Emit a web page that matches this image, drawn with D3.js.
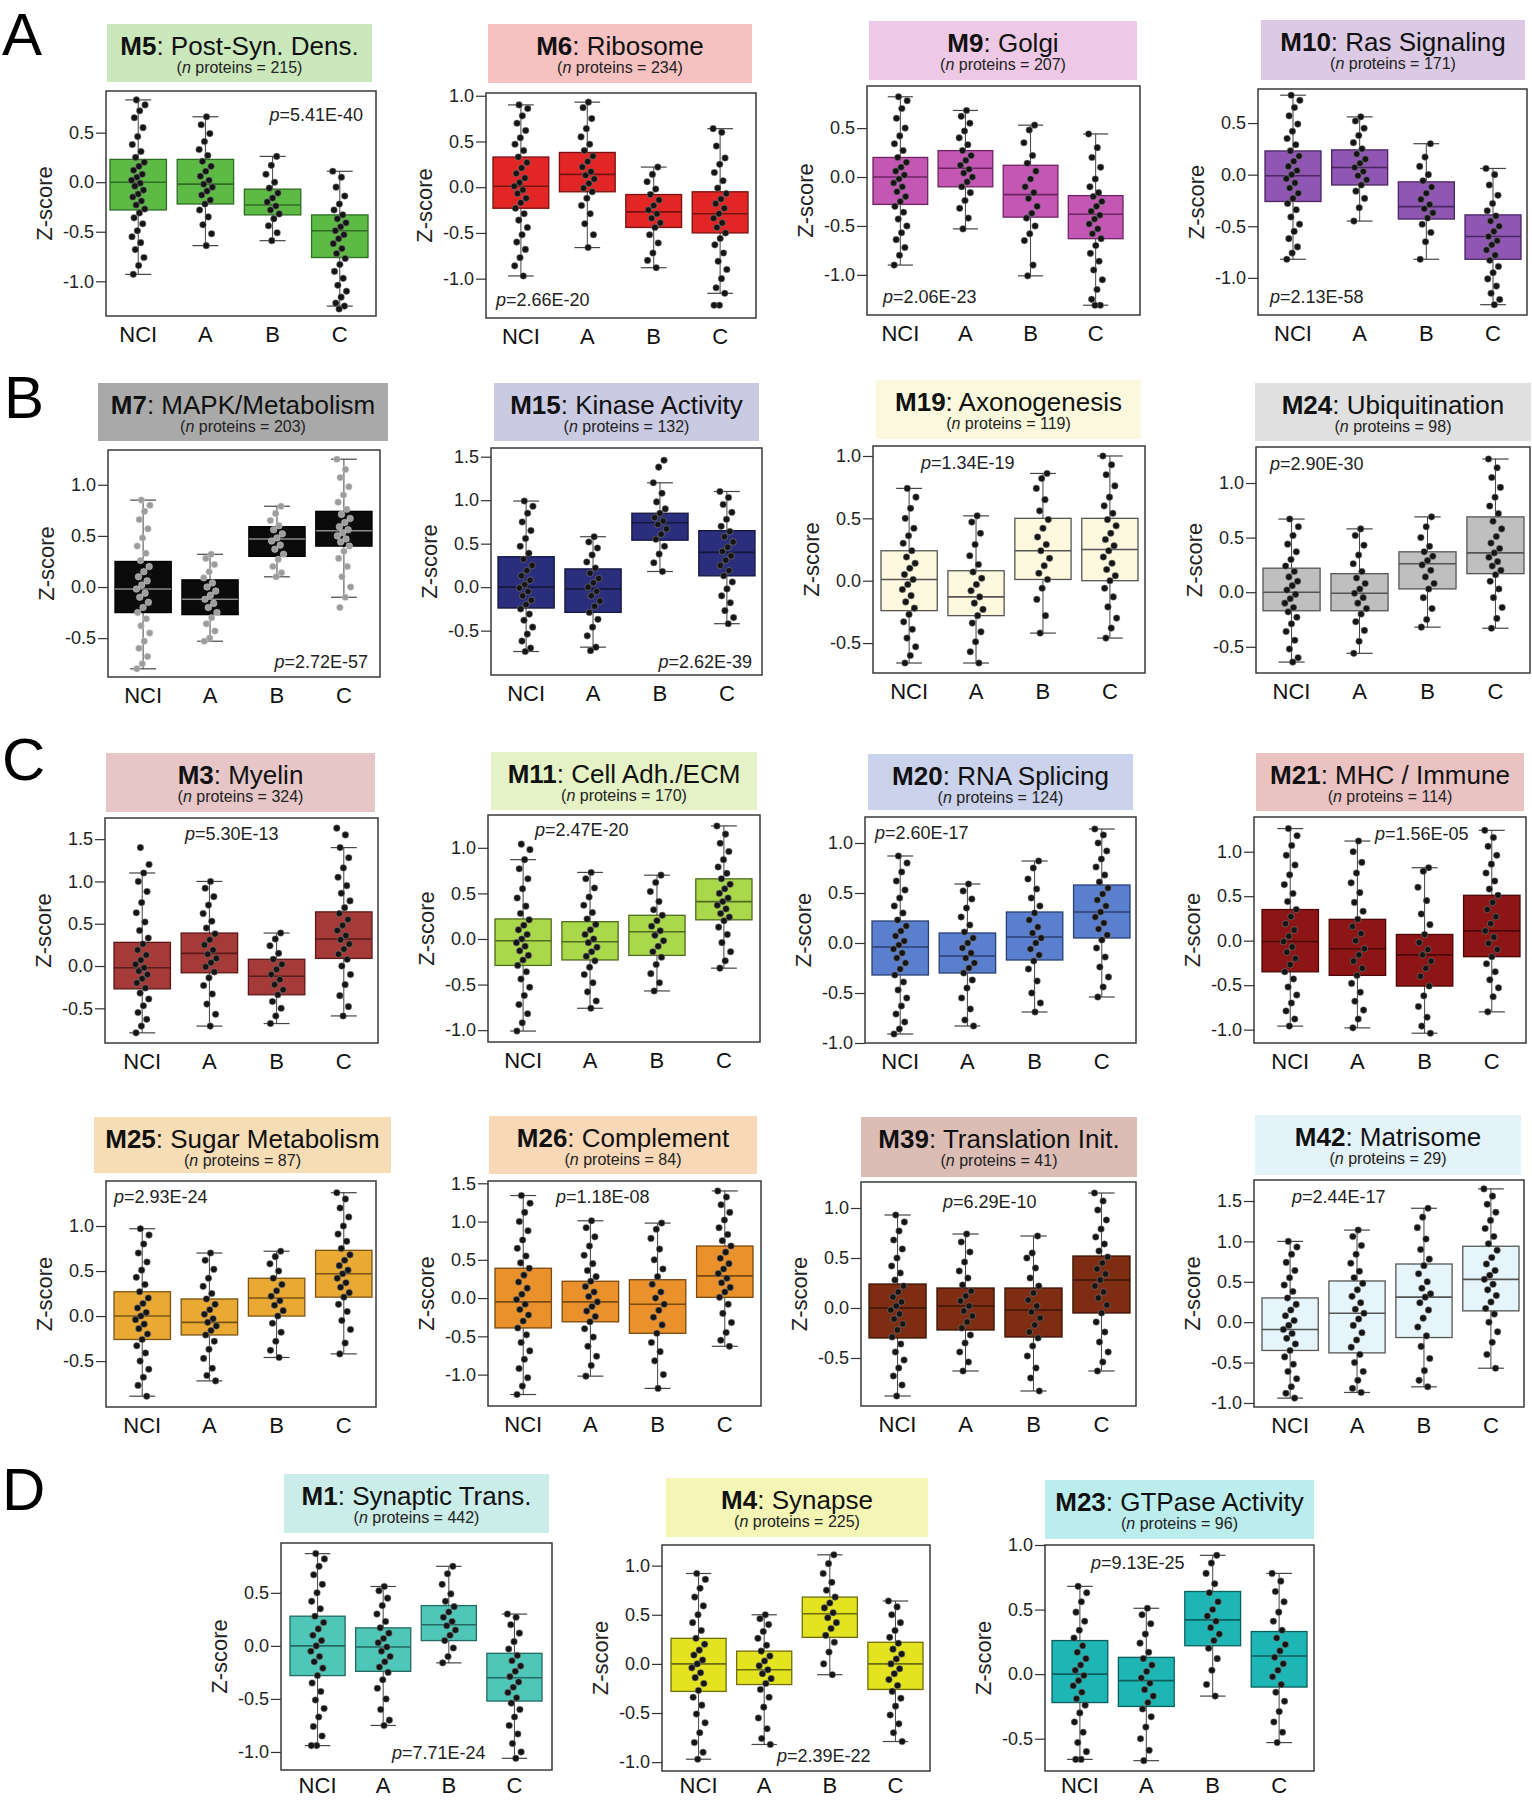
<!DOCTYPE html>
<html>
<head>
<meta charset="utf-8">
<script src="https://cdn.jsdelivr.net/npm/d3@7"></script>
<style>
  body { margin: 0; background: #fff; }
  svg { display: block; font-family: "Liberation Sans", Arial, sans-serif; }
</style>
</head>
<body>
<svg id="chart" width="1532" height="1800"></svg>
<script>
  'use strict';

  var groups = ['NCI', 'A', 'B', 'C'];
  var panelLetters = ['A', 'B', 'C', 'D'];

  var modules = ['M5', 'M6', 'M9', 'M10', 'M7', 'M15', 'M19', 'M24', 'M3', 'M11', 'M20', 'M21',
    'M25', 'M26', 'M39', 'M42', 'M1', 'M4', 'M23'];
  var moduleNames = ['Post-Syn. Dens.', 'Ribosome', 'Golgi', 'Ras Signaling', 'MAPK/Metabolism',
    'Kinase Activity', 'Axonogenesis', 'Ubiquitination', 'Myelin', 'Cell Adh./ECM', 'RNA Splicing',
    'MHC / Immune', 'Sugar Metabolism', 'Complement', 'Translation Init.', 'Matrisome',
    'Synaptic Trans.', 'Synapse', 'GTPase Activity'];
  var proteinCounts = [215, 234, 207, 171, 203, 132, 119, 98, 324, 170, 124, 114, 87, 84, 41, 29, 442, 225, 96];
  var pValues = ['5.41E-40', '2.66E-20', '2.06E-23', '2.13E-58', '2.72E-57', '2.62E-39', '1.34E-19',
    '2.90E-30', '5.30E-13', '2.47E-20', '2.60E-17', '1.56E-05', '2.93E-24', '1.18E-08', '6.29E-10',
    '2.44E-17', '7.71E-24', '2.39E-22', '9.13E-25'];

  var yTicks = [
    [-1, -0.5, 0, 0.5], [-1, -0.5, 0, 0.5, 1], [-1, -0.5, 0, 0.5], [-1, -0.5, 0, 0.5],
    [-0.5, 0, 0.5, 1], [-0.5, 0, 0.5, 1, 1.5], [-0.5, 0, 0.5, 1], [-0.5, 0, 0.5, 1],
    [-0.5, 0, 0.5, 1, 1.5], [-1, -0.5, 0, 0.5, 1], [-1, -0.5, 0, 0.5, 1], [-1, -0.5, 0, 0.5, 1],
    [-0.5, 0, 0.5, 1], [-1, -0.5, 0, 0.5, 1, 1.5], [-0.5, 0, 0.5, 1], [-1, -0.5, 0, 0.5, 1, 1.5],
    [-1, -0.5, 0, 0.5], [-1, -0.5, 0, 0.5, 1], [-0.5, 0, 0.5, 1]
  ];

  // [lower whisker, q1, median, q3, upper whisker] for NCI, A, B, C
  var boxStats = [
    [[-0.93, -0.28, 0.0, 0.23, 0.83], [-0.64, -0.22, -0.02, 0.23, 0.66], [-0.59, -0.33, -0.23, -0.07, 0.26], [-1.25, -0.76, -0.49, -0.33, 0.11]],
    [[-0.97, -0.23, 0.01, 0.33, 0.90], [-0.66, -0.05, 0.14, 0.38, 0.93], [-0.88, -0.44, -0.27, -0.08, 0.22], [-1.16, -0.50, -0.29, -0.05, 0.64]],
    [[-0.90, -0.28, 0.0, 0.20, 0.82], [-0.53, -0.10, 0.09, 0.27, 0.68], [-1.01, -0.41, -0.18, 0.12, 0.53], [-1.31, -0.63, -0.38, -0.19, 0.44]],
    [[-0.82, -0.26, -0.01, 0.23, 0.77], [-0.45, -0.10, 0.07, 0.24, 0.56], [-0.82, -0.43, -0.31, -0.07, 0.30], [-1.26, -0.82, -0.60, -0.39, 0.06]],
    [[-0.80, -0.25, -0.02, 0.25, 0.85], [-0.53, -0.27, -0.12, 0.07, 0.32], [0.10, 0.30, 0.47, 0.59, 0.79], [-0.10, 0.40, 0.55, 0.74, 1.25]],
    [[-0.74, -0.24, 0.0, 0.35, 0.99], [-0.69, -0.29, -0.02, 0.21, 0.58], [0.18, 0.54, 0.74, 0.85, 1.20], [-0.42, 0.13, 0.40, 0.65, 1.10]],
    [[-0.66, -0.24, 0.01, 0.24, 0.74], [-0.66, -0.28, -0.13, 0.08, 0.52], [-0.42, 0.01, 0.24, 0.50, 0.86], [-0.46, 0.0, 0.25, 0.50, 1.0]],
    [[-0.64, -0.17, 0.0, 0.22, 0.67], [-0.56, -0.17, -0.01, 0.17, 0.58], [-0.32, 0.03, 0.26, 0.37, 0.69], [-0.33, 0.17, 0.36, 0.69, 1.22]],
    [[-0.79, -0.27, -0.02, 0.28, 1.10], [-0.71, -0.08, 0.15, 0.39, 1.00], [-0.68, -0.34, -0.12, 0.08, 0.39], [-0.59, 0.09, 0.32, 0.64, 1.40]],
    [[-1.01, -0.29, -0.02, 0.22, 0.87], [-0.76, -0.23, -0.03, 0.19, 0.73], [-0.57, -0.18, 0.08, 0.26, 0.70], [-0.32, 0.21, 0.41, 0.66, 1.24]],
    [[-0.91, -0.32, -0.04, 0.22, 0.87], [-0.83, -0.30, -0.13, 0.10, 0.59], [-0.69, -0.17, 0.06, 0.31, 0.82], [-0.54, 0.05, 0.31, 0.58, 1.14]],
    [[-0.96, -0.35, -0.01, 0.35, 1.26], [-0.98, -0.39, -0.09, 0.24, 1.12], [-1.04, -0.51, -0.16, 0.07, 0.82], [-0.80, -0.18, 0.11, 0.51, 1.24]],
    [[-0.89, -0.26, 0.0, 0.27, 0.97], [-0.72, -0.21, -0.07, 0.19, 0.70], [-0.46, 0.0, 0.20, 0.42, 0.72], [-0.42, 0.21, 0.47, 0.73, 1.37]],
    [[-1.26, -0.39, -0.05, 0.39, 1.34], [-1.02, -0.31, -0.05, 0.22, 1.01], [-1.18, -0.46, -0.08, 0.24, 0.98], [-0.63, 0.01, 0.29, 0.68, 1.40]],
    [[-0.88, -0.30, 0.0, 0.24, 0.93], [-0.63, -0.22, 0.02, 0.20, 0.74], [-0.83, -0.29, -0.02, 0.20, 0.72], [-0.63, -0.05, 0.28, 0.52, 1.15]],
    [[-0.94, -0.35, -0.09, 0.30, 1.0], [-0.87, -0.38, 0.11, 0.51, 1.14], [-0.80, -0.19, 0.31, 0.72, 1.41], [-0.57, 0.14, 0.53, 0.94, 1.65]],
    [[-0.94, -0.28, 0.0, 0.28, 0.87], [-0.75, -0.24, -0.01, 0.17, 0.56], [-0.16, 0.05, 0.20, 0.38, 0.75], [-1.06, -0.52, -0.30, -0.07, 0.30]],
    [[-0.97, -0.28, 0.0, 0.26, 0.92], [-0.82, -0.21, -0.06, 0.13, 0.50], [-0.11, 0.27, 0.51, 0.68, 1.11], [-0.79, -0.26, 0.0, 0.22, 0.64]],
    [[-0.66, -0.22, 0.0, 0.26, 0.68], [-0.67, -0.25, -0.05, 0.13, 0.51], [-0.17, 0.22, 0.42, 0.64, 0.92], [-0.53, -0.10, 0.14, 0.33, 0.78]]
  ];

  // individual z-scores shown as dots, NCI, A, B, C per module
  var points = [
    [[0.83,0.78,0.72,0.65,0.55,0.46,0.38,0.31,0.25,0.20,0.16,0.12,0.08,0.05,0.02,-0.01,-0.04,-0.08,-0.12,-0.15,-0.19,-0.23,-0.27,-0.31,-0.36,-0.42,-0.49,-0.55,-0.61,-0.68,-0.76,-0.84,-0.93],
     [0.66,0.58,0.49,0.41,0.33,0.27,0.21,0.16,0.11,0.06,0.02,-0.02,-0.05,-0.09,-0.13,-0.18,-0.22,-0.28,-0.35,-0.43,-0.52,-0.64],
     [0.26,0.17,0.08,0.0,-0.06,-0.11,-0.16,-0.2,-0.24,-0.28,-0.32,-0.37,-0.44,-0.51,-0.59],
     [0.11,0.05,-0.05,-0.14,-0.22,-0.28,-0.33,-0.37,-0.41,-0.45,-0.49,-0.53,-0.57,-0.62,-0.67,-0.72,-0.77,-0.83,-0.9,-0.97,-1.04,-1.1,-1.16,-1.22,-1.25,-1.28]],
    [[0.9,0.86,0.78,0.7,0.62,0.54,0.47,0.4,0.33,0.27,0.21,0.15,0.1,0.05,0.01,-0.03,-0.07,-0.12,-0.17,-0.23,-0.29,-0.36,-0.44,-0.52,-0.6,-0.68,-0.77,-0.86,-0.97],
     [0.93,0.87,0.75,0.64,0.55,0.47,0.4,0.34,0.28,0.22,0.17,0.13,0.09,0.04,-0.01,-0.05,-0.12,-0.2,-0.29,-0.4,-0.52,-0.66],
     [0.22,0.14,0.06,-0.02,-0.08,-0.14,-0.2,-0.25,-0.29,-0.34,-0.39,-0.44,-0.52,-0.61,-0.72,-0.8,-0.88],
     [0.64,0.6,0.45,0.32,0.25,0.16,0.07,-0.01,-0.07,-0.13,-0.18,-0.23,-0.29,-0.34,-0.39,-0.44,-0.5,-0.56,-0.63,-0.72,-0.81,-0.9,-1.0,-1.1,-1.16,-1.29,-1.29]],
    [[0.82,0.78,0.7,0.6,0.5,0.42,0.34,0.27,0.2,0.15,0.1,0.06,0.02,-0.02,-0.06,-0.1,-0.15,-0.2,-0.25,-0.3,-0.36,-0.43,-0.5,-0.57,-0.64,-0.72,-0.8,-0.9],
     [0.68,0.62,0.55,0.47,0.4,0.33,0.27,0.22,0.17,0.12,0.08,0.04,0.0,-0.05,-0.1,-0.16,-0.24,-0.32,-0.42,-0.53],
     [0.53,0.48,0.35,0.22,0.14,0.06,-0.02,-0.1,-0.16,-0.22,-0.3,-0.37,-0.42,-0.5,-0.58,-0.65,-0.9,-1.01],
     [0.44,0.3,0.2,0.1,-0.02,-0.1,-0.16,-0.2,-0.25,-0.3,-0.35,-0.39,-0.43,-0.48,-0.53,-0.58,-0.63,-0.7,-0.78,-0.86,-0.95,-1.05,-1.15,-1.25,-1.31,-1.31]],
    [[0.77,0.72,0.65,0.57,0.49,0.42,0.35,0.29,0.23,0.18,0.13,0.08,0.04,0.0,-0.04,-0.08,-0.13,-0.18,-0.23,-0.28,-0.34,-0.41,-0.48,-0.55,-0.62,-0.7,-0.76,-0.82],
     [0.56,0.52,0.45,0.38,0.31,0.25,0.2,0.15,0.11,0.07,0.03,-0.01,-0.05,-0.1,-0.16,-0.23,-0.32,-0.45],
     [0.3,0.17,0.08,0.0,-0.06,-0.12,-0.18,-0.24,-0.29,-0.33,-0.37,-0.42,-0.48,-0.56,-0.65,-0.82],
     [0.06,0.0,-0.1,-0.2,-0.28,-0.35,-0.4,-0.45,-0.5,-0.55,-0.6,-0.64,-0.68,-0.73,-0.78,-0.83,-0.89,-0.95,-1.01,-1.08,-1.15,-1.21,-1.26]],
    [[0.85,0.8,0.74,0.66,0.57,0.48,0.4,0.33,0.26,0.2,0.15,0.1,0.06,0.02,-0.02,-0.06,-0.1,-0.15,-0.2,-0.25,-0.31,-0.38,-0.45,-0.53,-0.6,-0.68,-0.75,-0.8],
     [0.32,0.28,0.22,0.15,0.09,0.04,0.0,-0.04,-0.08,-0.12,-0.16,-0.2,-0.25,-0.3,-0.36,-0.43,-0.5,-0.53],
     [0.79,0.72,0.65,0.6,0.56,0.52,0.48,0.45,0.41,0.37,0.32,0.27,0.2,0.14,0.1],
     [1.25,1.15,1.07,0.98,0.9,0.83,0.76,0.71,0.67,0.63,0.59,0.56,0.53,0.5,0.47,0.44,0.4,0.35,0.28,0.2,0.1,0.0,-0.1,-0.2]],
    [[0.99,0.93,0.85,0.75,0.65,0.56,0.47,0.39,0.32,0.25,0.19,0.13,0.08,0.03,-0.01,-0.05,-0.1,-0.15,-0.2,-0.25,-0.31,-0.38,-0.46,-0.54,-0.62,-0.7,-0.74],
     [0.58,0.52,0.45,0.37,0.29,0.22,0.16,0.1,0.05,0.0,-0.05,-0.1,-0.16,-0.22,-0.29,-0.37,-0.46,-0.56,-0.69,-0.73],
     [1.46,1.38,1.2,1.08,0.98,0.9,0.85,0.8,0.76,0.72,0.67,0.61,0.55,0.47,0.38,0.28,0.18],
     [1.1,1.03,0.95,0.86,0.78,0.7,0.64,0.58,0.52,0.46,0.41,0.36,0.31,0.25,0.19,0.13,0.06,-0.02,-0.1,-0.18,-0.27,-0.35,-0.42]],
    [[0.74,0.67,0.58,0.5,0.42,0.36,0.3,0.24,0.19,0.14,0.1,0.05,0.01,-0.03,-0.07,-0.12,-0.17,-0.22,-0.27,-0.33,-0.39,-0.46,-0.53,-0.6,-0.66],
     [0.52,0.47,0.38,0.29,0.2,0.13,0.07,0.02,-0.03,-0.08,-0.13,-0.18,-0.23,-0.28,-0.34,-0.41,-0.49,-0.57,-0.66],
     [0.86,0.82,0.74,0.65,0.56,0.49,0.42,0.35,0.29,0.24,0.18,0.12,0.06,0.01,-0.06,-0.15,-0.28,-0.42],
     [1.0,0.93,0.85,0.76,0.67,0.6,0.54,0.49,0.44,0.38,0.33,0.28,0.24,0.19,0.14,0.09,0.04,0.0,-0.06,-0.13,-0.21,-0.3,-0.38,-0.46]],
    [[0.67,0.6,0.52,0.44,0.37,0.3,0.24,0.19,0.14,0.1,0.06,0.02,-0.02,-0.06,-0.1,-0.14,-0.18,-0.23,-0.29,-0.36,-0.44,-0.52,-0.6,-0.64],
     [0.58,0.52,0.43,0.34,0.26,0.19,0.13,0.08,0.03,-0.01,-0.05,-0.1,-0.15,-0.2,-0.27,-0.35,-0.45,-0.56],
     [0.69,0.6,0.5,0.42,0.37,0.33,0.29,0.25,0.2,0.14,0.08,0.03,-0.05,-0.15,-0.25,-0.32],
     [1.22,1.14,1.05,0.96,0.87,0.79,0.72,0.65,0.58,0.51,0.45,0.4,0.36,0.32,0.28,0.24,0.2,0.16,0.1,0.03,-0.05,-0.14,-0.24,-0.33]],
    [[1.4,1.2,1.1,1.0,0.88,0.75,0.63,0.52,0.42,0.33,0.26,0.19,0.13,0.07,0.02,-0.02,-0.06,-0.1,-0.15,-0.2,-0.26,-0.32,-0.39,-0.47,-0.55,-0.63,-0.71,-0.79],
     [1.0,0.92,0.82,0.72,0.62,0.53,0.45,0.38,0.31,0.25,0.19,0.14,0.09,0.04,-0.01,-0.07,-0.14,-0.23,-0.33,-0.45,-0.57,-0.71],
     [0.39,0.32,0.24,0.15,0.08,0.02,-0.04,-0.1,-0.16,-0.22,-0.28,-0.34,-0.42,-0.5,-0.59,-0.68],
     [1.63,1.55,1.4,1.28,1.16,1.05,0.95,0.86,0.77,0.69,0.62,0.55,0.48,0.42,0.36,0.31,0.26,0.2,0.14,0.08,0.0,-0.1,-0.22,-0.35,-0.48,-0.59]],
    [[1.04,0.98,0.87,0.77,0.66,0.55,0.45,0.36,0.28,0.21,0.15,0.1,0.05,0.0,-0.04,-0.08,-0.13,-0.18,-0.23,-0.29,-0.36,-0.44,-0.53,-0.62,-0.72,-0.82,-0.92,-1.01],
     [0.73,0.66,0.56,0.46,0.37,0.29,0.22,0.16,0.1,0.05,0.0,-0.04,-0.09,-0.14,-0.19,-0.24,-0.31,-0.39,-0.48,-0.58,-0.68,-0.76],
     [0.7,0.62,0.52,0.41,0.32,0.26,0.2,0.14,0.09,0.04,-0.02,-0.08,-0.14,-0.2,-0.28,-0.38,-0.48,-0.57],
     [1.24,1.15,1.05,0.96,0.87,0.79,0.72,0.66,0.6,0.55,0.5,0.45,0.41,0.37,0.33,0.28,0.24,0.2,0.13,0.05,-0.04,-0.14,-0.24,-0.32]],
    [[0.87,0.8,0.71,0.62,0.53,0.45,0.37,0.3,0.23,0.17,0.12,0.07,0.02,-0.02,-0.06,-0.1,-0.15,-0.2,-0.26,-0.32,-0.39,-0.47,-0.55,-0.63,-0.71,-0.79,-0.86,-0.91],
     [0.59,0.52,0.44,0.35,0.26,0.18,0.11,0.05,0.0,-0.05,-0.1,-0.15,-0.2,-0.25,-0.3,-0.37,-0.45,-0.55,-0.66,-0.77,-0.83],
     [0.82,0.75,0.64,0.54,0.45,0.37,0.3,0.23,0.16,0.1,0.05,0.0,-0.06,-0.12,-0.18,-0.26,-0.38,-0.5,-0.6,-0.69],
     [1.14,1.08,1.0,0.92,0.84,0.76,0.68,0.61,0.55,0.49,0.43,0.37,0.31,0.26,0.2,0.14,0.08,0.03,-0.05,-0.14,-0.24,-0.34,-0.44,-0.54]],
    [[1.26,1.18,1.07,0.96,0.85,0.74,0.63,0.53,0.44,0.35,0.27,0.19,0.12,0.05,-0.01,-0.07,-0.13,-0.2,-0.27,-0.35,-0.43,-0.52,-0.61,-0.7,-0.79,-0.88,-0.96],
     [1.12,1.0,0.88,0.76,0.65,0.54,0.43,0.33,0.24,0.16,0.08,0.0,-0.09,-0.16,-0.23,-0.31,-0.39,-0.48,-0.58,-0.68,-0.78,-0.88,-0.98],
     [0.82,0.78,0.6,0.45,0.3,0.18,0.07,-0.02,-0.1,-0.16,-0.23,-0.31,-0.4,-0.51,-0.62,-0.74,-0.86,-0.96,-1.04],
     [1.24,1.16,1.06,0.96,0.86,0.76,0.67,0.58,0.51,0.43,0.35,0.27,0.19,0.11,0.04,-0.03,-0.1,-0.18,-0.26,-0.35,-0.44,-0.53,-0.63,-0.8]],
    [[0.97,0.9,0.8,0.7,0.6,0.51,0.43,0.35,0.27,0.2,0.14,0.09,0.04,0.0,-0.04,-0.09,-0.14,-0.2,-0.26,-0.33,-0.41,-0.5,-0.59,-0.68,-0.77,-0.89],
     [0.7,0.62,0.52,0.42,0.33,0.25,0.19,0.13,0.07,0.02,-0.03,-0.07,-0.11,-0.16,-0.21,-0.28,-0.37,-0.47,-0.58,-0.66,-0.72],
     [0.72,0.66,0.58,0.5,0.42,0.35,0.28,0.22,0.17,0.12,0.06,0.0,-0.08,-0.18,-0.28,-0.38,-0.46],
     [1.37,1.3,1.2,1.1,1.0,0.91,0.83,0.75,0.68,0.62,0.56,0.51,0.47,0.42,0.37,0.32,0.26,0.21,0.13,0.05,-0.05,-0.15,-0.3,-0.42]],
    [[1.34,1.24,1.12,1.0,0.88,0.76,0.65,0.55,0.46,0.39,0.3,0.21,0.13,0.05,-0.02,-0.08,-0.15,-0.22,-0.3,-0.39,-0.48,-0.58,-0.69,-0.8,-0.92,-1.04,-1.15,-1.26],
     [1.01,0.92,0.8,0.68,0.56,0.45,0.36,0.28,0.22,0.15,0.08,0.02,-0.05,-0.11,-0.17,-0.24,-0.31,-0.4,-0.51,-0.63,-0.76,-0.88,-1.02],
     [0.98,0.9,0.78,0.64,0.5,0.38,0.28,0.18,0.08,0.0,-0.08,-0.16,-0.25,-0.35,-0.46,-0.58,-0.7,-0.82,-1.0,-1.18],
     [1.4,1.32,1.22,1.12,1.02,0.92,0.83,0.75,0.68,0.6,0.52,0.45,0.38,0.32,0.26,0.2,0.14,0.08,0.01,-0.08,-0.2,-0.32,-0.45,-0.55,-0.63]],
    [[0.93,0.86,0.77,0.68,0.59,0.5,0.42,0.35,0.28,0.22,0.16,0.11,0.06,0.02,-0.02,-0.06,-0.11,-0.16,-0.22,-0.29,-0.36,-0.44,-0.52,-0.6,-0.68,-0.77,-0.88],
     [0.74,0.66,0.56,0.46,0.37,0.3,0.23,0.17,0.12,0.07,0.02,-0.03,-0.08,-0.14,-0.2,-0.27,-0.35,-0.44,-0.54,-0.63],
     [0.72,0.55,0.5,0.4,0.3,0.22,0.15,0.08,0.02,-0.04,-0.1,-0.17,-0.24,-0.3,-0.38,-0.48,-0.6,-0.7,-0.83],
     [1.15,1.07,0.98,0.88,0.79,0.71,0.64,0.57,0.51,0.45,0.39,0.34,0.28,0.22,0.16,0.1,0.03,-0.05,-0.14,-0.24,-0.34,-0.44,-0.54,-0.63]],
    [[1.0,0.93,0.84,0.74,0.64,0.55,0.46,0.38,0.3,0.22,0.15,0.08,0.02,-0.04,-0.09,-0.14,-0.2,-0.27,-0.35,-0.43,-0.52,-0.61,-0.7,-0.8,-0.88,-0.94],
     [1.14,1.06,0.95,0.84,0.73,0.63,0.55,0.48,0.4,0.32,0.24,0.16,0.11,0.04,-0.04,-0.13,-0.22,-0.31,-0.4,-0.5,-0.61,-0.72,-0.82,-0.87],
     [1.41,1.3,1.17,1.03,0.9,0.78,0.7,0.6,0.5,0.42,0.35,0.31,0.24,0.15,0.05,-0.06,-0.17,-0.3,-0.45,-0.6,-0.72,-0.8],
     [1.65,1.56,1.46,1.36,1.26,1.16,1.06,0.97,0.89,0.8,0.72,0.64,0.58,0.53,0.47,0.4,0.33,0.25,0.17,0.1,0.0,-0.12,-0.25,-0.4,-0.57]],
    [[0.87,0.82,0.75,0.67,0.58,0.5,0.42,0.35,0.28,0.22,0.16,0.1,0.05,0.0,-0.05,-0.1,-0.15,-0.21,-0.28,-0.35,-0.43,-0.51,-0.59,-0.67,-0.76,-0.85,-0.94,-0.94],
     [0.56,0.52,0.45,0.38,0.3,0.23,0.17,0.12,0.07,0.03,-0.01,-0.05,-0.1,-0.15,-0.2,-0.25,-0.32,-0.4,-0.5,-0.6,-0.7,-0.75],
     [0.75,0.68,0.58,0.49,0.42,0.37,0.32,0.27,0.23,0.19,0.15,0.1,0.05,-0.02,-0.1,-0.16],
     [0.3,0.27,0.2,0.12,0.04,-0.03,-0.09,-0.14,-0.19,-0.24,-0.29,-0.34,-0.39,-0.44,-0.49,-0.54,-0.6,-0.67,-0.75,-0.83,-0.92,-1.0,-1.06]],
    [[0.92,0.86,0.77,0.68,0.59,0.5,0.42,0.34,0.26,0.2,0.14,0.09,0.04,0.0,-0.04,-0.09,-0.14,-0.2,-0.27,-0.34,-0.42,-0.51,-0.6,-0.7,-0.8,-0.9,-0.97],
     [0.5,0.46,0.4,0.33,0.26,0.19,0.13,0.08,0.03,-0.02,-0.06,-0.1,-0.15,-0.2,-0.26,-0.34,-0.44,-0.55,-0.66,-0.76,-0.82],
     [1.11,1.02,0.92,0.83,0.75,0.68,0.62,0.57,0.52,0.47,0.42,0.36,0.29,0.22,0.12,0.0,-0.11],
     [0.64,0.58,0.5,0.42,0.34,0.27,0.21,0.15,0.1,0.05,0.0,-0.05,-0.1,-0.16,-0.22,-0.28,-0.35,-0.43,-0.52,-0.61,-0.7,-0.79]],
    [[0.68,0.63,0.56,0.48,0.41,0.34,0.28,0.22,0.17,0.12,0.07,0.03,-0.01,-0.05,-0.09,-0.14,-0.19,-0.24,-0.3,-0.37,-0.45,-0.53,-0.6,-0.66,-0.66],
     [0.51,0.46,0.39,0.31,0.24,0.17,0.12,0.07,0.02,-0.03,-0.07,-0.12,-0.17,-0.22,-0.27,-0.33,-0.41,-0.5,-0.59,-0.67],
     [0.92,0.86,0.78,0.7,0.63,0.56,0.5,0.45,0.41,0.36,0.31,0.26,0.2,0.12,0.03,-0.08,-0.17],
     [0.78,0.72,0.64,0.56,0.48,0.41,0.34,0.28,0.23,0.18,0.13,0.08,0.03,-0.02,-0.08,-0.14,-0.21,-0.29,-0.37,-0.45,-0.53]]
  ];

  // colours per module
  var boxFill = ['#5dba45', '#e22626', '#c456b4', '#8f57b3', '#0b0b0b', '#2b2e7c', '#fcf9df', '#bfbfbf',
    '#a53a38', '#a9d84b', '#5b7fcf', '#8e1515', '#e9a933', '#ea912b', '#7f2d12', '#e6f5fb', '#4ec6b8', '#e3e31f', '#1db6b4'];
  var boxStroke = ['#2f6d22', '#7a1010', '#6e2463', '#4a2562', '#000000', '#15173f', '#555555', '#555555',
    '#5a1a1a', '#4f6b1f', '#2a3f73', '#4a0808', '#7a5416', '#7a4810', '#3a1408', '#555555', '#226a62', '#6e6e10', '#0d5f5e'];
  var titleFill = ['#cbe8bd', '#f5c1c1', '#edc9e5', '#dcc9e3', '#a9a9a9', '#cacae2', '#fbf9dd', '#e0e0e0',
    '#e6c6c6', '#e4f2c6', '#cad2ec', '#eac2c2', '#f6ddb6', '#f8d8b6', '#dcbdb5', '#e4f3f9', '#cbede9', '#f5f5b6', '#bbeded'];

  // frame f:[x0,x1,y0,y1], title t:[x0,x1,y0,y1], y domain d, box span b, p label p:[x,y,anchor]
  var layout = [
    {f: [106, 376, 91, 316], t: [107, 372, 24, 82], d: [-1.35, 0.92], b: [110, 368], p: [363, 121, 'end']},
    {f: [486, 756, 93, 318], t: [488, 752, 24, 83], d: [-1.43, 1.03], b: [493, 748], p: [496, 306, 'start']},
    {f: [867, 1140, 86, 315], t: [869, 1137, 21, 80], d: [-1.41, 0.93], b: [873, 1123], p: [883, 303, 'start']},
    {f: [1258, 1527, 89, 315], t: [1261, 1525, 20, 80], d: [-1.36, 0.83], b: [1265, 1521], p: [1270, 303, 'start']},
    {f: [108, 380, 450, 677], t: [98, 388, 383, 441], d: [-0.88, 1.34], b: [115, 372], p: [368, 668, 'end']},
    {f: [491, 762, 448, 675], t: [494, 759, 383, 441], d: [-1.01, 1.60], b: [498, 755], p: [752, 668, 'end']},
    {f: [873, 1145, 446, 673], t: [876, 1141, 380, 439], d: [-0.74, 1.08], b: [881, 1138], p: [921, 469, 'start']},
    {f: [1256, 1530, 447, 673], t: [1255, 1531, 383, 441], d: [-0.74, 1.33], b: [1263, 1524], p: [1270, 470, 'start']},
    {f: [105, 378, 818, 1043], t: [106, 375, 753, 812], d: [-0.91, 1.75], b: [114, 372], p: [185, 840, 'start']},
    {f: [488, 760, 815, 1042], t: [491, 757, 752, 810], d: [-1.13, 1.36], b: [495, 752], p: [535, 836, 'start']},
    {f: [865, 1136, 817, 1043], t: [868, 1133, 754, 810], d: [-1.0, 1.26], b: [872, 1130], p: [875, 839, 'start']},
    {f: [1254, 1526, 817, 1043], t: [1256, 1524, 753, 811], d: [-1.15, 1.39], b: [1262, 1520], p: [1375, 840, 'start']},
    {f: [106, 376, 1181, 1407], t: [94, 391, 1117, 1173], d: [-1.01, 1.5], b: [114, 372], p: [114, 1203, 'start']},
    {f: [488, 761, 1181, 1406], t: [489, 757, 1116, 1174], d: [-1.41, 1.53], b: [495, 753], p: [556, 1203, 'start']},
    {f: [861, 1136, 1182, 1406], t: [861, 1137, 1117, 1177], d: [-0.98, 1.26], b: [869, 1130], p: [943, 1208, 'start']},
    {f: [1254, 1524, 1180, 1407], t: [1255, 1521, 1115, 1175], d: [-1.05, 1.76], b: [1262, 1519], p: [1292, 1203, 'start']},
    {f: [281, 552, 1543, 1770], t: [284, 549, 1474, 1533], d: [-1.17, 0.97], b: [290, 542], p: [392, 1759, 'start']},
    {f: [662, 930, 1545, 1771], t: [666, 928, 1478, 1537], d: [-1.09, 1.21], b: [671, 923], p: [777, 1762, 'start']},
    {f: [1045, 1314, 1545, 1771], t: [1045, 1314, 1480, 1539], d: [-0.75, 1.0], b: [1052, 1307], p: [1091, 1569, 'start']}
  ];
  var letterPos = [[2, 55], [4, 418], [2, 780], [2, 1510]];

  var svg = d3.select('#chart');
  var fontFamily = '"Liberation Sans", Arial, sans-serif';
  var jitter_width = 14;

  svg.selectAll('text.letter')
    .data(panelLetters)
    .enter()
    .append('text')
    .attr('class', 'letter')
    .attr('x', function(d, i) { return letterPos[i][0]; })
    .attr('y', function(d, i) { return letterPos[i][1]; })
    .attr('font-size', 60)
    .attr('fill', '#000')
    .text(function(d) { return d; });

  modules.forEach(function(mod, k) {
    var L = layout[k];
    var g = svg.append('g');
    var y = d3.scaleLinear().domain(L.d).range([L.f[3], L.f[2]]);
    var x = d3.scaleBand().domain(groups).range(L.b).paddingInner(0.16);
    var bw = x.bandwidth();

    // title block
    g.append('rect')
      .attr('x', L.t[0]).attr('y', L.t[2])
      .attr('width', L.t[1] - L.t[0]).attr('height', L.t[3] - L.t[2])
      .attr('fill', titleFill[k]);
    var cx = (L.t[0] + L.t[1]) / 2;
    var title = g.append('text')
      .attr('x', cx).attr('y', L.t[2] + 31)
      .attr('text-anchor', 'middle').attr('font-size', 26).attr('fill', '#111');
    title.append('tspan').attr('font-weight', 'bold').text(mod);
    title.append('tspan').text(': ' + moduleNames[k]);
    var sub = g.append('text')
      .attr('x', cx).attr('y', L.t[2] + 49)
      .attr('text-anchor', 'middle').attr('font-size', 16).attr('fill', '#222');
    sub.append('tspan').text('(');
    sub.append('tspan').attr('font-style', 'italic').text('n');
    sub.append('tspan').text(' proteins = ' + proteinCounts[k] + ')');

    // frame
    g.append('rect')
      .attr('x', L.f[0]).attr('y', L.f[2])
      .attr('width', L.f[1] - L.f[0]).attr('height', L.f[3] - L.f[2])
      .attr('fill', '#fff').attr('stroke', '#3a3a3a').attr('stroke-width', 1.5);

    // y axis
    var ax = g.append('g')
      .attr('transform', 'translate(' + L.f[0] + ',0)')
      .call(d3.axisLeft(y).tickValues(yTicks[k]).tickSize(10).tickPadding(2)
        .tickFormat(function(d) { return d.toFixed(1); }));
    ax.select('.domain').remove();
    ax.selectAll('line').attr('stroke', '#333').attr('stroke-width', 1.2);
    ax.selectAll('text')
      .style('font-family', fontFamily).style('font-size', '18px').attr('fill', '#222');

    g.append('text')
      .attr('transform', 'translate(' + (L.f[0] - 54) + ',' + ((L.f[2] + L.f[3]) / 2) + ') rotate(-90)')
      .attr('text-anchor', 'middle').attr('font-size', 22).attr('fill', '#222')
      .text('Z-score');

    // x labels
    g.selectAll('text.xl')
      .data(groups)
      .enter()
      .append('text')
      .attr('class', 'xl')
      .attr('x', function(d) { return x(d) + bw / 2; })
      .attr('y', Math.min(L.f[3] + 26, 1793))
      .attr('text-anchor', 'middle').attr('font-size', 22).attr('fill', '#111')
      .text(function(d) { return d; });

    // p value
    var pt = g.append('text')
      .attr('x', L.p[0]).attr('y', L.p[1])
      .attr('text-anchor', L.p[2]).attr('font-size', 18).attr('fill', '#222');
    pt.append('tspan').attr('font-style', 'italic').text('p');
    pt.append('tspan').text('=' + pValues[k]);

    var median_color = k === 4 ? '#8a8a8a' : boxStroke[k];
    var dot_fill = k === 4 ? '#9c9c9c' : '#151515';
    var dot_stroke = k === 4 ? '#cfcfcf' : '#8c8c8c';

    groups.forEach(function(grp, j) {
      var s = boxStats[k][j];
      var c = x(grp) + bw / 2;
      var cap = bw * 0.23;
      g.append('line')
        .attr('x1', c).attr('x2', c).attr('y1', y(s[0])).attr('y2', y(s[4]))
        .attr('stroke', '#444').attr('stroke-width', 1);
      [s[0], s[4]].forEach(function(v) {
        g.append('line')
          .attr('x1', c - cap).attr('x2', c + cap).attr('y1', y(v)).attr('y2', y(v))
          .attr('stroke', '#444').attr('stroke-width', 1.2);
      });
      g.append('rect')
        .attr('x', x(grp)).attr('y', y(s[3]))
        .attr('width', bw).attr('height', y(s[1]) - y(s[3]))
        .attr('fill', boxFill[k]).attr('stroke', boxStroke[k]).attr('stroke-width', 1.3);
      g.append('line')
        .attr('x1', x(grp)).attr('x2', x(grp) + bw).attr('y1', y(s[2])).attr('y2', y(s[2]))
        .attr('stroke', median_color).attr('stroke-width', 1.6);

      g.append('g')
        .selectAll('circle')
        .data(points[k][j])
        .enter()
        .append('circle')
        .attr('cx', function(d, i) { return c + (((i * 0.618034 + j * 0.21 + 0.37) % 1) - 0.5) * jitter_width; })
        .attr('cy', function(d) { return y(d); })
        .attr('r', 3.3)
        .attr('fill', dot_fill)
        .attr('stroke', dot_stroke)
        .attr('stroke-width', 0.5);
    });
  });
</script>
</body>
</html>
